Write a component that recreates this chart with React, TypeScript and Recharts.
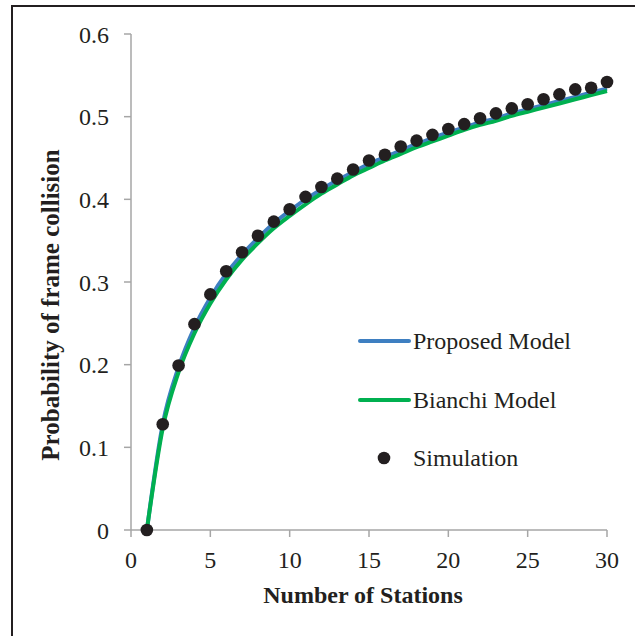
import React from 'react';
import { ComposedChart, Line, Scatter, XAxis, YAxis, Legend, Label } from 'recharts';

// number of stations on the x axis
const stations = [
  1, 2, 3, 4, 5, 6, 7, 8, 9, 10, 11, 12, 13, 14, 15,
  16, 17, 18, 19, 20, 21, 22, 23, 24, 25, 26, 27, 28, 29, 30,
];

const proposedModel = [
  0, 0.128, 0.197, 0.245, 0.281, 0.310, 0.333, 0.353, 0.371, 0.386,
  0.400, 0.412, 0.423, 0.433, 0.443, 0.451, 0.459, 0.467, 0.474, 0.481,
  0.487, 0.493, 0.498, 0.504, 0.509, 0.514, 0.519, 0.524, 0.529, 0.534,
];

const bianchiModel = [
  0, 0.123, 0.191, 0.238, 0.274, 0.303, 0.327, 0.347, 0.365, 0.380,
  0.394, 0.407, 0.418, 0.429, 0.438, 0.447, 0.455, 0.463, 0.470, 0.477,
  0.484, 0.490, 0.495, 0.501, 0.506, 0.511, 0.516, 0.521, 0.526, 0.531,
];

const simulation = [
  0, 0.128, 0.199, 0.249, 0.285, 0.313, 0.336, 0.356, 0.373, 0.388,
  0.403, 0.415, 0.425, 0.436, 0.447, 0.454, 0.464, 0.471, 0.478, 0.485,
  0.491, 0.498, 0.504, 0.510, 0.515, 0.521, 0.527, 0.533, 0.535, 0.542,
];

const xTicks = [0, 5, 10, 15, 20, 25, 30];
const yTicks = [0, 0.1, 0.2, 0.3, 0.4, 0.5, 0.6];
const legendOrder = ['Proposed Model', 'Bianchi Model', 'Simulation'];

const data = stations.map((n, i) => ({
  n,
  proposed: proposedModel[i],
  bianchi: bianchiModel[i],
  sim: simulation[i],
}));

const FONT = '"Liberation Serif", "Times New Roman", serif';
const AXIS_GREY = '#a6a6a6';
const TEXT = '#231f20';

const tickStyle = { fontFamily: FONT, fontSize: 24, fill: TEXT };

// legend drawn as a block inside the plot, like the Excel original
const renderLegend = (props: any) => {
  const items = [...(props.payload || [])].sort(
    (a: any, b: any) => legendOrder.indexOf(a.value) - legendOrder.indexOf(b.value)
  );
  return (
    <div style={{ fontFamily: FONT, fontSize: 24, color: TEXT, lineHeight: 1 }}>
      {items.map((item: any) => (
        <div
          key={item.value}
          style={{ display: 'flex', alignItems: 'center', height: 58.5 }}
        >
          <svg width={55} height={20} style={{ flexShrink: 0 }}>
            {item.type === 'circle' ? (
              <circle cx={26} cy={10} r={6.3} fill={item.color} />
            ) : (
              <line x1={2} y1={10} x2={51} y2={10} stroke={item.color} strokeWidth={4} strokeLinecap="round" />
            )}
          </svg>
          <span>{item.value}</span>
        </div>
      ))}
    </div>
  );
};

const YTitle = (props: any) => {
  const vb = props.viewBox || { x: 0, y: 0, width: 0, height: 0 };
  const cx = vb.x + 50;
  const cy = vb.y + vb.height / 2 + 23;
  return (
    <text
      x={cx}
      y={cy}
      transform={`rotate(-90, ${cx}, ${cy})`}
      textAnchor="middle"
      dominantBaseline="central"
      style={{ fontFamily: FONT, fontSize: 25, fontWeight: 'bold', fill: TEXT }}
    >
      Probability of frame collision
    </text>
  );
};

export default function App() {
  return (
    <div style={{ position: 'absolute', left: 0, top: 0, width: 635, height: 636, background: '#fff' }}>
      <div
        style={{
          position: 'absolute',
          left: 11,
          top: 5,
          right: 0,
          bottom: 0,
          borderTop: `2px solid ${TEXT}`,
          borderLeft: `2px solid ${TEXT}`,
        }}
      />
      <ComposedChart
        width={635}
        height={636}
        data={data}
        margin={{ top: 34, right: 28, bottom: 36, left: 0 }}
        style={{ position: 'absolute', left: 0, top: 0 }}
      >
        <XAxis
          dataKey="n"
          type="number"
          domain={[0, 30]}
          ticks={xTicks}
          interval={0}
          height={70}
          tickSize={7}
          tickMargin={14}
          axisLine={{ stroke: AXIS_GREY, strokeWidth: 1.5 }}
          tickLine={{ stroke: AXIS_GREY, strokeWidth: 1.5 }}
          tick={tickStyle}
        >
          <Label
            value="Number of Stations"
            position="insideBottom"
            offset={-3}
            dx={-6}
            style={{ fontFamily: FONT, fontSize: 24, fontWeight: 'bold', fill: TEXT }}
          />
        </XAxis>
        <YAxis
          type="number"
          domain={[0, 0.6]}
          ticks={yTicks}
          interval={0}
          width={131}
          tickSize={7}
          tickMargin={15}
          tickFormatter={(v: number) => String(v)}
          axisLine={{ stroke: AXIS_GREY, strokeWidth: 1.5 }}
          tickLine={{ stroke: AXIS_GREY, strokeWidth: 1.5 }}
          tick={tickStyle}
        >
          <Label content={YTitle} />
        </YAxis>
        <Legend
          content={renderLegend}
          layout="vertical"
          align="center"
          verticalAlign="middle"
          wrapperStyle={{ position: 'absolute', left: 358, top: 312, width: 260 }}
        />
        <Line
          name="Proposed Model"
          dataKey="proposed"
          type="monotone"
          stroke="#3e7fc1"
          strokeWidth={4}
          dot={false}
          activeDot={false}
          legendType="line"
          isAnimationActive={false}
        />
        <Line
          name="Bianchi Model"
          dataKey="bianchi"
          type="monotone"
          stroke="#00b050"
          strokeWidth={4}
          dot={false}
          activeDot={false}
          legendType="line"
          isAnimationActive={false}
        />
        <Scatter
          name="Simulation"
          dataKey="sim"
          fill="#231f20"
          shape={(p: any) => <circle cx={p.cx} cy={p.cy} r={6.3} fill="#231f20" />}
          legendType="circle"
          isAnimationActive={false}
        />
      </ComposedChart>
    </div>
  );
}
